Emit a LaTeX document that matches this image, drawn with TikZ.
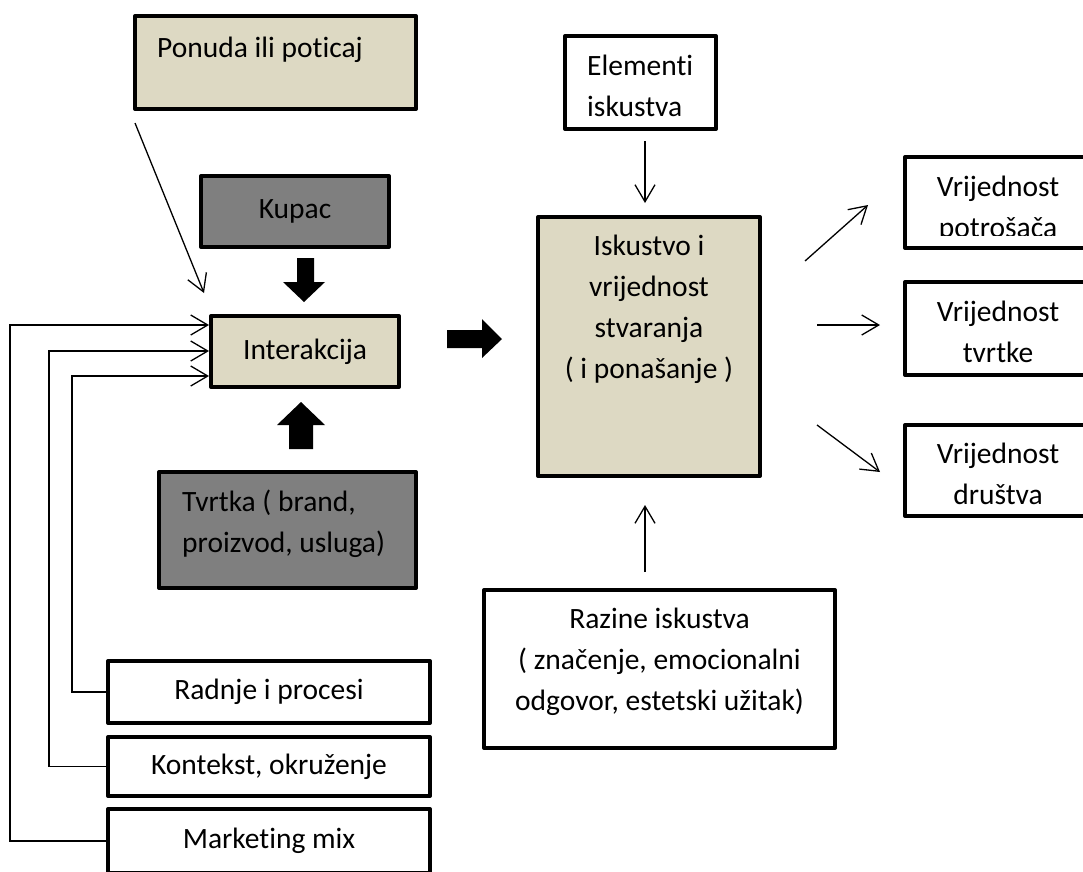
\documentclass[tikz,border=0pt]{standalone}
\usepackage{fontspec}
\setmainfont{Carlito}[Ligatures=NoCommon]
\usetikzlibrary{arrows.meta,calc}
\definecolor{beige}{HTML}{DDD9C3}
\definecolor{darkgr}{HTML}{7F7F7F}
\tikzset{
  box/.style={draw=black, line width=4pt, line join=round, inner sep=0pt, align=center,
              font=\fontsize{29.5}{41}\selectfont},
  txt/.style={inner sep=0pt, font=\fontsize{29.5}{41}\selectfont},
  conn/.style={line width=1.3pt, -{Straight Barb[length=17pt,width=20pt]}},
  fb/.style={line width=1.3pt, -{Straight Barb[length=17pt,width=20pt]}},
  blockarrow/.style={fill=black, draw=none}
}
\begin{document}
\begin{tikzpicture}[x=1pt,y=-1pt]
\useasboundingbox[fill=white] (0,0) rectangle (1083,871);

% left column
\node[box, fill=beige, minimum width=281pt, minimum height=93pt] (ponuda) at (275.5,62.5) {};
\node[txt, anchor=base west] (ponudaT) at (157,57) {Ponuda ili poticaj};
\node[box, fill=darkgr, minimum width=188pt, minimum height=71pt] (kupac) at (295,211.5) {Kupac};
\node[box, fill=beige, minimum width=188pt, minimum height=71pt] (inter) at (305,351.5) {Interakcija};
\node[box, fill=darkgr, minimum width=257pt, minimum height=116pt] (tvrtka) at (287.5,530) {};
\node[txt, anchor=base west, align=left] (tvrtkaT) at (182,552) {Tvrtka ( brand,\\proizvod, usluga)};
\node[box, minimum width=322pt, minimum height=62pt] (radnje) at (269,692) {Radnje i procesi};
\node[box, minimum width=322pt, minimum height=59pt] (kontekst) at (269,766.5) {Kontekst, okruženje};
\node[box, minimum width=322pt, minimum height=64pt] (mix) at (269,841) {Marketing mix};

% middle
\node[box, minimum width=151pt, minimum height=93pt] (elem) at (640.5,82.5) {};
\node[txt, anchor=base west, align=left] (elemT) at (587,116) {Elementi\\iskustva};
\node[box, fill=beige, minimum width=222pt, minimum height=259pt] (isk) at (649,346.5) {};
\node[txt, anchor=base, align=center] (iskT) at (649,378) {Iskustvo i\\vrijednost\\stvaranja\\( i ponašanje )};
\node[box, minimum width=351pt, minimum height=158pt] (raz) at (659.5,669) {};
\node[txt, anchor=base, align=center] (razT) at (659.5,710) {Razine iskustva\\( značenje, emocionalni\\odgovor, estetski užitak)};

% right
\node[box, minimum width=186pt, minimum height=91pt] (potr) at (998,202.5) {};
\begin{scope}
\clip (905,150) rectangle (1090,235);
\node[txt, anchor=base, align=center] (potrT) at (998,237) {Vrijednost\\potrošača};
\end{scope}
\node[box, minimum width=186pt, minimum height=93pt] (tvr) at (998,328.5) {};
\node[txt, anchor=base, align=center] (tvrT) at (998,362) {Vrijednost\\tvrtke};
\node[box, minimum width=186pt, minimum height=91pt] (drus) at (998,470.5) {};
\node[txt, anchor=base, align=center] (drusT) at (998,504) {Vrijednost\\društva};

% thin connectors
\draw[conn] ($(ponuda.south west)+(2,12)$) -- ($(inter.north west)+(-5,-21)$);
\draw[fb] (radnje.west) -- ++(-34,0) |- ($(inter.west)+(0,24.5)$);
\draw[fb] (kontekst.west) -- ++(-57,0) |- ($(inter.west)+(0,-0.5)$);
\draw[fb] (mix.west) -- ++(-96,0) |- ($(inter.west)+(0,-26.5)$);
\draw[conn] ($(elem.south)+(4.5,10)$) -- ($(isk.north)+(-4,-12)$);
\draw[conn] ($(raz.north)+(-14.5,-16)$) -- ($(isk.south)+(-4,27)$);
\draw[conn] ($(isk.east)+(43,-85.5)$) -- ($(potr.west)+(-35,2.5)$);
\draw[conn] ($(isk.east)+(55,-21.5)$) -- ($(tvr.west)+(-23,-3.5)$);
\draw[conn] ($(isk.east)+(55,78.5)$) -- ($(drus.west)+(-23,1.5)$);

% block arrows
\fill[blockarrow] (297,258) -- (314,258) -- (314,282) -- (325,282) -- (304,302) -- (283,282) -- (297,282) -- cycle;
\fill[blockarrow] (289,449) -- (313,449) -- (313,425) -- (325,425) -- (301,402) -- (277,425) -- (289,425) -- cycle;
\fill[blockarrow] (447,330) -- (482,330) -- (482,319) -- (502,339) -- (482,358) -- (482,348) -- (447,348) -- cycle;
\end{tikzpicture}
\end{document}
